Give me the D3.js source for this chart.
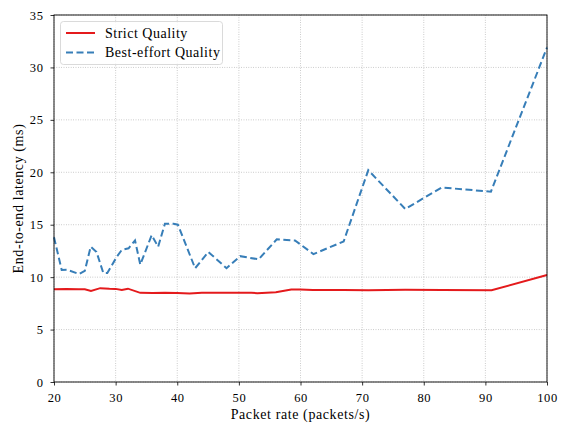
<!DOCTYPE html>
<html><head><meta charset="utf-8">
<script src="https://cdn.jsdelivr.net/npm/d3@7"></script>
<style>body{margin:0;background:#fff}text{font-family:"Liberation Serif","DejaVu Serif",serif}</style>
</head><body><svg id="c" width="561" height="423"></svg>
<script>
const strictX = [20,22,24,25,26,27.5,29,30,31,32,34,36,38,40,42,44,48,52,53,56,58.5,60,62,67,71,77,83,91,100];
const strictY = [8.85,8.87,8.85,8.85,8.68,8.95,8.9,8.88,8.77,8.9,8.5,8.48,8.52,8.48,8.45,8.52,8.5,8.5,8.47,8.55,8.82,8.82,8.78,8.78,8.76,8.8,8.78,8.75,10.2];
const bestX = [20,21.25,22.1,24.1,25,25.95,26.9,28,28.65,30.2,31,32.1,33.15,34,35.85,36.9,38,39.4,40.1,42.9,45.05,48,50.2,53.2,56.15,59.1,62.1,67,71,77,82.9,90.9,100];
const bestY = [13.8,10.68,10.7,10.3,10.6,12.9,12.4,10.4,10.4,11.95,12.6,12.75,13.5,11.2,14.0,12.9,15.1,15.1,15.0,10.85,12.4,10.85,12.0,11.7,13.6,13.5,12.2,13.4,20.2,16.5,18.55,18.15,31.9];
const xTicks = [20,30,40,50,60,70,80,90,100];
const yTicks = [0,5,10,15,20,25,30,35];
const seriesNames = ["Strict Quality","Best-effort Quality"];

const svg = d3.select("#c");
const L=54,R=547,T=15,B=382;
const x = d3.scaleLinear().domain([20,100]).range([L,R]);
const y = d3.scaleLinear().domain([0,35]).range([B,T]);

// grid
const g = svg.append("g");
g.selectAll(".vx").data(xTicks).join("line").attr("x1",d=>x(d)).attr("x2",d=>x(d)).attr("y1",T).attr("y2",B)
 .attr("stroke","#b0b0b0").attr("stroke-width",0.8).attr("stroke-dasharray","0.8,1.6");
g.selectAll(".hy").data(yTicks).join("line").attr("y1",d=>y(d)).attr("y2",d=>y(d)).attr("x1",L).attr("x2",R)
 .attr("stroke","#b0b0b0").attr("stroke-width",0.8).attr("stroke-dasharray","0.8,1.6");

const line = d3.line().x(d=>x(d[0])).y(d=>y(d[1]));
svg.append("path").datum(strictX.map((v,i)=>[v,strictY[i]])).attr("d",line)
 .attr("fill","none").attr("stroke","#e41a1c").attr("stroke-width",2);
svg.append("path").datum(bestX.map((v,i)=>[v,bestY[i]])).attr("d",line)
 .attr("fill","none").attr("stroke","#377eb8").attr("stroke-width",2).attr("stroke-dasharray","7,3.5");

// axes
const xa = svg.append("g").attr("transform",`translate(0,${B})`).call(d3.axisBottom(x).tickValues(xTicks).tickSize(3.5).tickPadding(8));
const ya = svg.append("g").attr("transform",`translate(${L},0)`).call(d3.axisLeft(y).tickValues(yTicks).tickSize(3.5).tickPadding(7));
[xa,ya].forEach(a=>{a.select(".domain").remove();a.selectAll("text").attr("font-size",12.5).attr("letter-spacing",0.6).attr("font-family","Liberation Serif").attr("fill","#000");a.selectAll("line").attr("stroke","#000").attr("stroke-width",0.8);});
svg.append("rect").attr("x",L).attr("y",T).attr("width",R-L).attr("height",B-T).attr("fill","none").attr("stroke","#000").attr("stroke-width",0.9);

svg.append("text").attr("x",(L+R)/2).attr("y",419).attr("text-anchor","middle").attr("font-size",14).attr("letter-spacing",0.6).text("Packet rate (packets/s)");
svg.append("text").attr("transform",`translate(23,${(T+B)/2}) rotate(-90)`).attr("text-anchor","middle").attr("font-size",14).attr("letter-spacing",0.6).text("End-to-end latency (ms)");

// legend
const lg = svg.append("g");
lg.append("rect").attr("x",60.5).attr("y",21.5).attr("width",162).attr("height",43).attr("rx",3).attr("fill","#fff").attr("fill-opacity",0.8).attr("stroke","#d0d0d0").attr("stroke-width",0.8);
const cols=["#e41a1c","#377eb8"], dashes=[null,"7,3.5"];
seriesNames.forEach((n,i)=>{
  const yy = 33+i*19.5;
  lg.append("line").attr("x1",66).attr("x2",95).attr("y1",yy).attr("y2",yy).attr("stroke",cols[i]).attr("stroke-width",2).attr("stroke-dasharray",dashes[i]);
  lg.append("text").attr("x",105).attr("y",yy+4.5).attr("font-size",14).attr("letter-spacing",0.5).text(n);
});
</script></body></html>
